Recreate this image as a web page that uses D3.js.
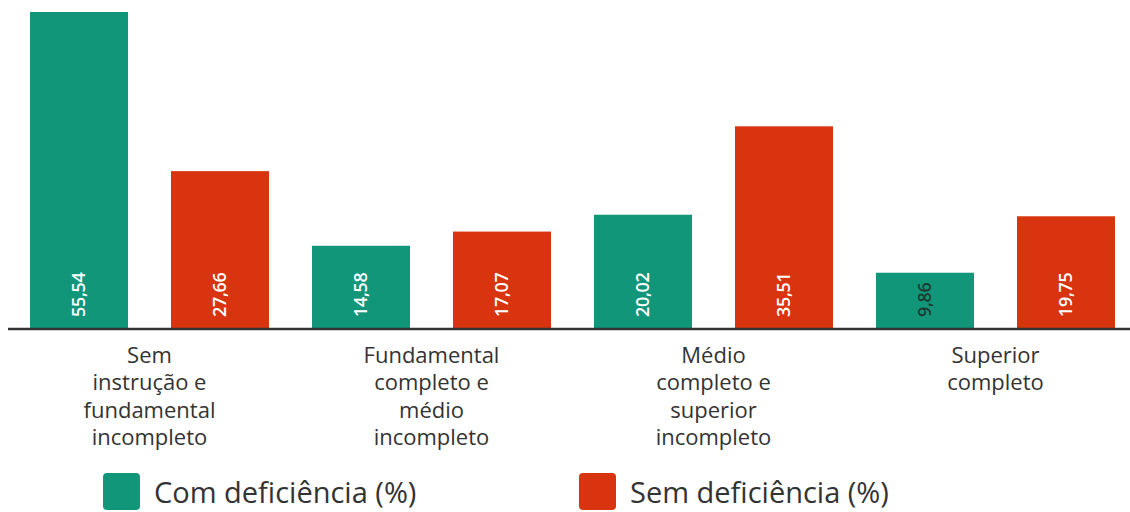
<!DOCTYPE html>
<html>
<head>
<meta charset="utf-8">
<script src="https://cdn.jsdelivr.net/npm/d3@7"></script>
<style>
  html, body { margin: 0; padding: 0; background: #fff; }
  svg { display: block; font-family: "Open Sans", sans-serif; }
</style>
</head>
<body>
<div class="container"></div>
<script>
// chart values
const categories = [
    ["Sem", "instrução e", "fundamental", "incompleto"],
    ["Fundamental", "completo e", "médio", "incompleto"],
    ["Médio", "completo e", "superior", "incompleto"],
    ["Superior", "completo"],
];
const series = ["Com deficiência (%)", "Sem deficiência (%)"];
const comDeficiencia = [55.54, 14.58, 20.02, 9.86];
const semDeficiencia = [27.66, 17.07, 35.51, 19.75];

const width = 1130;
const height = 512;
const colors = ["#11967a", "#d8340f"];

const svg = d3.select(".container")
    .append("svg")
    .attr("width", width)
    .attr("height", height);

const rows = categories.map((c, i) => ({
    key: i,
    lines: c,
    values: [comDeficiencia[i], semDeficiencia[i]],
}));

const baseline = 329;

const x0 = d3.scaleBand()
    .domain(rows.map((d) => d.key))
    .range([8.5, 8.5 + 282 * 4])
    .paddingInner(0);

const x1 = d3.scaleBand()
    .domain(series)
    .range([0, x0.bandwidth()])
    .paddingInner(0.305)
    .paddingOuter(0.1525);

const y = d3.scaleLinear()
    .domain([0, d3.max(comDeficiencia.concat(semDeficiencia))])
    .range([baseline, 12]);

const fmt = (v) => d3.format(".2f")(v).replace(".", ",");

const groups = svg.selectAll("g.group")
    .data(rows)
    .enter()
    .append("g")
    .attr("class", "group")
    .attr("transform", (d) => `translate(${x0(d.key)},0)`);

const cells = groups.selectAll("g.cell")
    .data((d) => d.values.map((v, j) => ({ s: series[j], j: j, v: v })))
    .enter()
    .append("g")
    .attr("class", "cell");

cells.append("rect")
    .attr("x", (d) => x1(d.s))
    .attr("y", (d) => y(d.v))
    .attr("width", x1.bandwidth())
    .attr("height", (d) => baseline - y(d.v))
    .attr("fill", (d) => colors[d.j]);

cells.append("text")
    .attr("transform", (d) => `translate(${x1(d.s) + x1.bandwidth() / 2},${baseline - 12}) rotate(-90)`)
    .attr("dy", "0.35em")
    .attr("text-anchor", "start")
    .attr("font-size", "18px")
    .attr("font-weight", 600)
    .attr("letter-spacing", "-0.3px")
    .attr("fill", (d) => (d.v < 10 ? "#1d3b31" : "#ffffff"))
    .text((d) => fmt(d.v));

// x axis line
svg.append("line")
    .attr("x1", 8)
    .attr("x2", width)
    .attr("y1", baseline)
    .attr("y2", baseline)
    .attr("stroke", "#333")
    .attr("stroke-width", 2.5);

// category labels
const labels = svg.selectAll("text.cat")
    .data(rows)
    .enter()
    .append("text")
    .attr("class", "cat")
    .attr("x", (d) => x0(d.key) + x0.bandwidth() / 2)
    .attr("y", 363)
    .attr("text-anchor", "middle")
    .attr("font-size", "22px")
    .attr("fill", "#333");

labels.selectAll("tspan")
    .data((d) => d.lines)
    .enter()
    .append("tspan")
    .attr("x", function () { return d3.select(this.parentNode).attr("x"); })
    .attr("dy", (d, i) => (i === 0 ? 0 : 27.3))
    .text((d) => d);

// legend
const legend = svg.selectAll("g.legend")
    .data(series)
    .enter()
    .append("g")
    .attr("class", "legend")
    .attr("transform", (d, i) => `translate(${103 + i * 476},473)`);

legend.append("rect")
    .attr("width", 37)
    .attr("height", 37)
    .attr("rx", 4)
    .attr("fill", (d, i) => colors[i]);

legend.append("text")
    .attr("x", 51)
    .attr("y", 30)
    .attr("font-size", "29px")
    .attr("fill", "#333")
    .text((d) => d);
</script>
</body>
</html>
